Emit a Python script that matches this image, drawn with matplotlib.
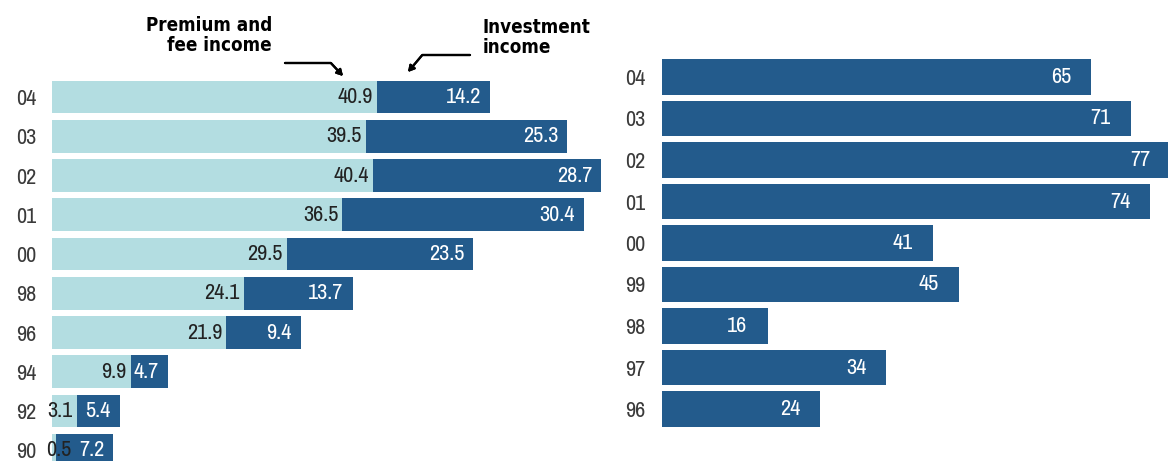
import matplotlib
matplotlib.use('Agg')
import matplotlib.pyplot as plt
from matplotlib import font_manager
import numpy as np

# ---------------------------------------------------------------- data
years_l = ['04', '03', '02', '01', '00', '98', '96', '94', '92', '90']
premium = [40.9, 39.5, 40.4, 36.5, 29.5, 24.1, 21.9, 9.9, 3.1, 0.5]
invest = [14.2, 25.3, 28.7, 30.4, 23.5, 13.7, 9.4, 4.7, 5.4, 7.2]

years_r = ['04', '03', '02', '01', '00', '99', '98', '97', '96']
total_r = [65, 71, 77, 74, 41, 45, 16, 34, 24]

c_light = '#b3dde1'
c_dark = '#235b8c'
c_year = '#3a3a3a'

# narrow face for numbers if one is around
narrow = None
for f in font_manager.fontManager.ttflist:
    if ('Narrow' in f.name or 'Condensed' in f.name) and f.weight in (400, 'normal', 'regular'):
        narrow = f.name
        break
if narrow is None:
    for f in font_manager.fontManager.ttflist:
        if f.stretch in ('condensed', 'semi-condensed', 'extra-condensed') and f.style == 'normal':
            narrow = f.name
            break
if narrow:
    fn = [narrow, 'DejaVu Sans']
    fs = 16
    stretch = 'condensed'
else:
    fn = ['DejaVu Sans']
    fs = 13
    stretch = 'normal'

W, H = 1168, 461
fig = plt.figure(figsize=(W / 100, H / 100), dpi=100)
tkw = dict(family=fn, fontsize=fs, fontstretch=stretch)

# ---------------------------------------------------------------- left: stacked
x0, x1 = 52, 610
axL = fig.add_axes([x0 / W, 0, (x1 - x0) / W, 1])
ppu_l = 7.95
axL.set_xlim(0, (x1 - x0) / ppu_l)
pitch = 39.25
axL.set_ylim((H - 97) / pitch, -97 / pitch)
yl = np.arange(len(years_l))
axL.barh(yl, premium, height=0.84, color=c_light, edgecolor='none')
axL.barh(yl, invest, left=premium, height=0.84, color=c_dark, edgecolor='none')
for i in range(len(years_l)):
    xp = max(premium[i] - 4 / ppu_l, 2.4)
    axL.text(xp, yl[i], '%.1f' % premium[i], ha='right', va='center',
             color='#222222', **tkw)
    xd = premium[i] + invest[i] - 9 / ppu_l
    axL.text(xd, yl[i], '%.1f' % invest[i], ha='right', va='center',
             color='white', **tkw)
axL.set_yticks(yl, years_l)
for t in axL.get_yticklabels():
    t.set(family=fn, fontsize=fs, fontstretch=stretch, color=c_year)
axL.tick_params(axis='y', length=0, pad=11)
axL.set_xticks([])
for s in axL.spines.values():
    s.set_visible(False)

# ---------------------------------------------------------------- right: totals
r0 = 662
axR = fig.add_axes([r0 / W, 0, (W - r0) / W, 1])
ppu_r = 6.6
axR.set_xlim(0, (W - r0) / ppu_r)
pitch_r = 41.5
axR.set_ylim((H - 77) / pitch_r, -77 / pitch_r)
yr = np.arange(len(years_r))
axR.barh(yr, total_r, height=0.85, color=c_dark, edgecolor='none')
for i in range(len(years_r)):
    axR.text(total_r[i] - 20 / ppu_r, yr[i], str(total_r[i]), ha='right',
             va='center', color='white', **tkw)
axR.set_yticks(yr, years_r)
for t in axR.get_yticklabels():
    t.set(family=fn, fontsize=fs, fontstretch=stretch, color=c_year)
axR.tick_params(axis='y', length=0, pad=12)
axR.set_xticks([])
for s in axR.spines.values():
    s.set_visible(False)

# ---------------------------------------------------------------- callouts
fig.text(272 / W, 1 - 16 / H, 'Premium and\nfee income', ha='right', va='top',
         fontsize=13.5, fontweight='black', family='DejaVu Sans', fontstretch='condensed',
         linespacing=1.05, multialignment='right')
fig.text(483 / W, 1 - 18 / H, 'Investment\nincome', ha='left', va='top',
         fontsize=13.5, fontweight='black', family='DejaVu Sans', fontstretch='condensed',
         linespacing=1.05)
arr = dict(arrowstyle='-|>,head_length=0.35,head_width=0.2', color='k', lw=1.6,
           shrinkA=0, shrinkB=0)
fig.add_artist(plt.annotate('', xy=(343, H - 76), xytext=(285, H - 63),
               xycoords='figure pixels', textcoords='figure pixels',
               arrowprops=dict(arr, connectionstyle='angle,angleA=0,angleB=-47,rad=0')))
fig.add_artist(plt.annotate('', xy=(408, H - 72), xytext=(470, H - 55),
               xycoords='figure pixels', textcoords='figure pixels',
               arrowprops=dict(arr, connectionstyle='angle,angleA=180,angleB=-130,rad=0')))

plt.savefig('out.png', dpi=100)
